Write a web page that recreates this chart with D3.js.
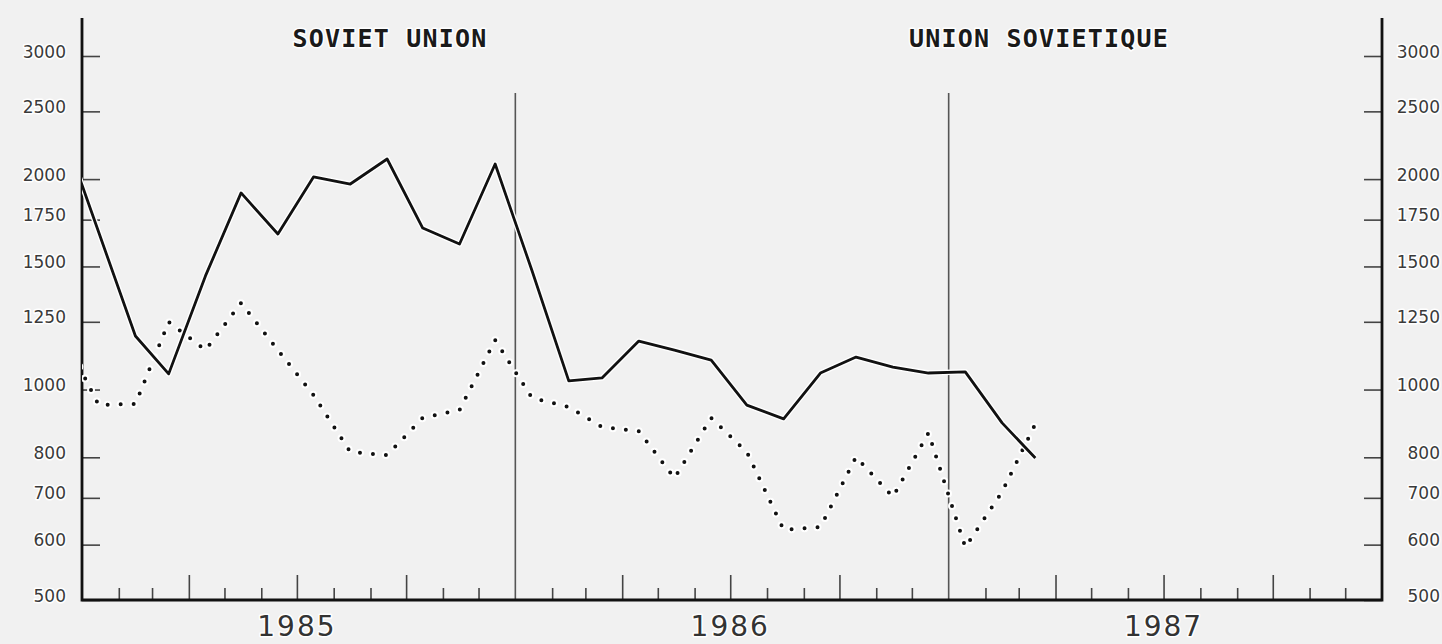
<!DOCTYPE html>
<html>
<head>
<meta charset="utf-8">
<script src="https://cdn.jsdelivr.net/npm/d3@7"></script>
<style>
  body { margin: 0; background: #f1f1f1; }
  svg { display: block; }
  .tick-label { font-family: "DejaVu Sans", sans-serif; font-size: 17px; fill: #3a3a3a; }
  .halo { paint-order: stroke; stroke: #fff; stroke-width: 3px; stroke-linejoin: round; }
</style>
</head>
<body>
<svg id="chart"></svg>
<script>
// monthly values, plotted at mid-month (Dec 1984 is clipped at the left axis)
var months = ["1984-12",
  "1985-01","1985-02","1985-03","1985-04","1985-05","1985-06",
  "1985-07","1985-08","1985-09","1985-10","1985-11","1985-12",
  "1986-01","1986-02","1986-03","1986-04","1986-05","1986-06",
  "1986-07","1986-08","1986-09","1986-10","1986-11","1986-12",
  "1987-01","1987-02","1987-03"];
var solidValues = [2367,
  1680,1193,1053,1454,1911,1669,2014,1968,2137,1702,1615,2102,
  1480,1029,1039,1173,1139,1102,950,908,1056,1113,1077,1056,
  1060,896,798];
var dottedValues = [1209,
  950,954,1249,1139,1330,1139,982,814,806,911,935,1177,
  973,944,884,872,747,911,814,630,636,801,702,867,
  595,714,893];
var yTicks = [500, 600, 700, 800, 1000, 1250, 1500, 1750, 2000, 2500, 3000];
var years = [1985, 1986, 1987];
var titles = ["SOVIET UNION", "UNION SOVIETIQUE"];

var width = 1442, height = 644;
var margin = {top: 56, right: 60, bottom: 44, left: 82};

var svg = d3.select("#chart")
    .attr("width", width)
    .attr("height", height);

var parse = d3.timeParse("%Y-%m");
var data = months.map(function(m, i) {
  return {date: d3.timeDay.offset(parse(m), 14), solid: solidValues[i], dotted: dottedValues[i]};
});

var x = d3.scaleTime()
    .domain([new Date(1985, 0, 1), new Date(1988, 0, 1)])
    .range([margin.left, width - margin.right]);
var y = d3.scaleLog()
    .domain([500, 3000])
    .range([height - margin.bottom, margin.top]);

var x0 = x.range()[0], x1 = x.range()[1], yBase = y.range()[0];

svg.append("clipPath").attr("id", "plot")
  .append("rect")
    .attr("x", x0).attr("y", 0)
    .attr("width", x1 - x0).attr("height", yBase);

// left and right axes: ticks point inward, labels outside
var left = svg.append("g")
    .attr("transform", "translate(" + x0 + ",0)")
    .call(d3.axisLeft(y).tickValues(yTicks).tickFormat(d3.format("d"))
      .tickSizeInner(-18).tickSizeOuter(0).tickPadding(16));
var right = svg.append("g")
    .attr("transform", "translate(" + x1 + ",0)")
    .call(d3.axisRight(y).tickValues(yTicks).tickFormat(d3.format("d"))
      .tickSizeInner(-18).tickSizeOuter(0).tickPadding(58));
right.selectAll("text").attr("text-anchor", "end");

[left, right].forEach(function(g) {
  g.select(".domain").remove();
  g.selectAll("line").attr("stroke", "#444").attr("stroke-width", 1.6);
  g.selectAll("text")
      .attr("class", "tick-label halo")
      .attr("font-family", null).attr("font-size", null).attr("fill", null)
      .attr("dy", "0.06em");
});

// bottom axis: monthly ticks, taller at quarters
var bottom = svg.append("g")
    .attr("transform", "translate(0," + yBase + ")")
    .call(d3.axisTop(x).ticks(d3.timeMonth.every(1))
      .tickSizeInner(12).tickSizeOuter(0).tickFormat(""));
bottom.select(".domain").remove();
bottom.selectAll(".tick")
    .filter(function(d) { return d.getMonth() === 0; })
    .remove();
bottom.selectAll(".tick line")
    .attr("stroke", "#444")
    .attr("stroke-width", 1.6)
    .attr("y2", function(d) { return d.getMonth() % 3 === 0 ? -25 : -12; });

// year dividers
svg.selectAll(".divider")
  .data(years.slice(1))
  .enter().append("line")
    .attr("class", "divider")
    .attr("x1", function(d) { return x(new Date(d, 0, 1)); })
    .attr("x2", function(d) { return x(new Date(d, 0, 1)); })
    .attr("y1", 93)
    .attr("y2", yBase)
    .attr("stroke", "#555")
    .attr("stroke-width", 1.6);

// frame
svg.append("path")
    .attr("d", "M" + x0 + ",18V" + yBase + "H" + x1 + "V18")
    .attr("fill", "none")
    .attr("stroke", "#111")
    .attr("stroke-width", 2.8);

// series
var lineSolid = d3.line()
    .x(function(d) { return x(d.date); })
    .y(function(d) { return y(d.solid); });
var lineDotted = d3.line()
    .x(function(d) { return x(d.date); })
    .y(function(d) { return y(d.dotted); });

var plot = svg.append("g").attr("clip-path", "url(#plot)");

plot.append("path").datum(data)
    .attr("d", lineDotted)
    .attr("fill", "none")
    .attr("stroke", "#fff")
    .attr("stroke-width", 8)
    .attr("stroke-linecap", "round")
    .attr("stroke-dasharray", "0 13");
plot.append("path").datum(data)
    .attr("d", lineDotted)
    .attr("fill", "none")
    .attr("stroke", "#111")
    .attr("stroke-width", 4)
    .attr("stroke-linecap", "round")
    .attr("stroke-dasharray", "0 13");

plot.append("path").datum(data)
    .attr("d", lineSolid)
    .attr("fill", "none")
    .attr("stroke", "#fff")
    .attr("stroke-width", 5.5)
    .attr("stroke-linejoin", "round");
plot.append("path").datum(data)
    .attr("d", lineSolid)
    .attr("fill", "none")
    .attr("stroke", "#111")
    .attr("stroke-width", 2.8)
    .attr("stroke-linejoin", "round");

// titles
svg.selectAll(".title")
  .data(titles)
  .enter().append("text")
    .attr("class", "title halo")
    .attr("x", function(d, i) { return i === 0 ? 390 : 1039; })
    .attr("y", 47)
    .attr("text-anchor", "middle")
    .attr("font-family", "'DejaVu Sans Mono', monospace")
    .attr("font-size", 25)
    .attr("font-weight", "bold")
    .attr("letter-spacing", 1.2)
    .attr("fill", "#1a1a1a")
    .text(function(d) { return d; });

// year labels
svg.selectAll(".year")
  .data(years)
  .enter().append("text")
    .attr("class", "year halo")
    .attr("x", function(d) { return x(new Date(d, 6, 1)); })
    .attr("y", 636)
    .attr("text-anchor", "middle")
    .attr("font-family", "'DejaVu Sans', sans-serif")
    .attr("font-size", 28)
    .attr("letter-spacing", 2)
    .attr("fill", "#333")
    .text(function(d) { return d; });
</script>
</body>
</html>
